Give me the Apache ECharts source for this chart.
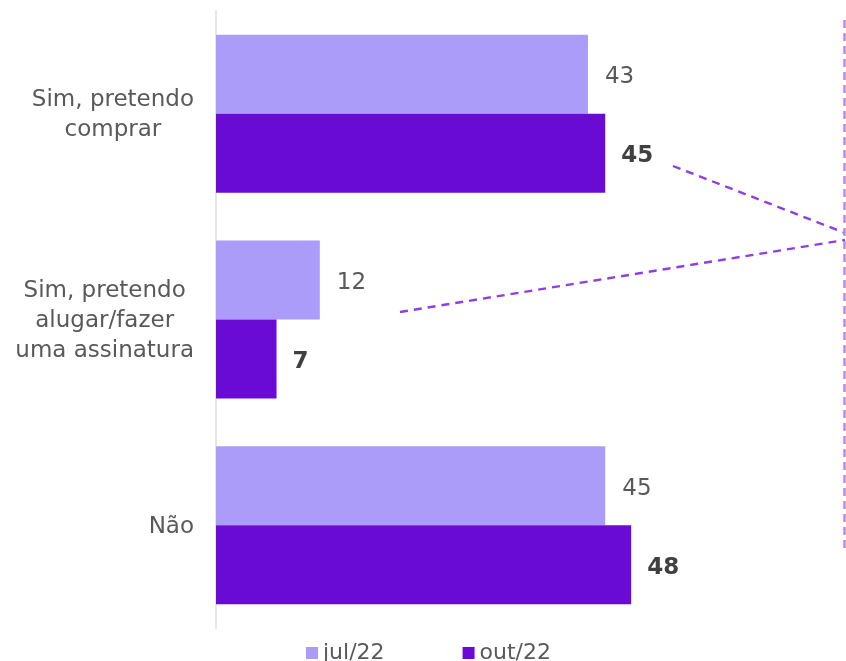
<!DOCTYPE html>
<html>
<head>
<meta charset="utf-8">
<style>html,body{margin:0;padding:0;background:#fff}#c{width:846px;height:661px}</style>
<script src="https://cdn.jsdelivr.net/npm/echarts@6/dist/echarts.min.js"></script>
</head>
<body>
<div id="c"></div>
<script>
var categories = ['Sim, pretendo\ncomprar', 'Sim, pretendo\nalugar/fazer\numa assinatura', 'Não'];
var seriesNames = ['jul/22', 'out/22'];
var julValues = [43, 12, 45];
var outValues = [45, 7, 48];

var chart = echarts.init(document.getElementById('c'), null, {renderer: 'canvas'});
var FONT = 'DejaVu Sans';
chart.setOption({
  animation: false,
  backgroundColor: '#ffffff',
  grid: {left: 216, top: 11, bottom: 33, right: 111, containLabel: false},
  xAxis: {type: 'value', min: 0, max: 60, show: false},
  yAxis: {
    type: 'category', data: categories, inverse: true,
    axisLine: {show: true, lineStyle: {color: '#e6e6e6', width: 2}},
    axisTick: {show: false},
    axisLabel: {
      margin: 22, align: 'right', color: '#595959', fontFamily: FONT, fontSize: 23, lineHeight: 30,
      formatter: function (v) { return v.split('\n').map(function (l) { return '{c|' + l + '}'; }).join('\n'); },
      rich: {c: {align: 'center', color: '#595959', fontFamily: FONT, fontSize: 23, lineHeight: 30, padding: [3, 0, 0, 0]}}
    }
  },
  legend: {
    data: seriesNames, top: 637, left: 301, itemGap: 78, itemWidth: 12, itemHeight: 12, icon: 'rect',
    textStyle: {color: '#595959', fontFamily: FONT, fontSize: 22}
  },
  series: [
    {
      name: seriesNames[0], type: 'bar', data: julValues, barWidth: 79, barGap: '0%',
      itemStyle: {color: '#ac9cfa'},
      label: {show: true, position: 'right', distance: 17, offset: [0, 3], color: '#595959', fontFamily: FONT, fontSize: 23}
    },
    {
      name: seriesNames[1], type: 'bar', data: outValues, barWidth: 79, barGap: '0%',
      itemStyle: {color: '#6a0bd5'},
      label: {show: true, position: 'right', distance: 16, offset: [0, 3], color: '#404040', fontFamily: FONT, fontSize: 23, fontWeight: 'bold'}
    }
  ],
  graphic: [
    {type: 'line', shape: {x1: 673, y1: 166, x2: 845, y2: 233}, style: {stroke: '#8f3de8', lineWidth: 2.4, lineDash: [8, 6]}, silent: true},
    {type: 'line', shape: {x1: 400, y1: 312, x2: 845, y2: 240}, style: {stroke: '#8f3de8', lineWidth: 2.4, lineDash: [8, 6]}, silent: true},
    {type: 'line', shape: {x1: 844.5, y1: 20, x2: 844.5, y2: 548}, style: {stroke: '#b48af0', lineWidth: 2.5, lineDash: [8, 5]}, silent: true}
  ]
});
</script>
</body>
</html>
